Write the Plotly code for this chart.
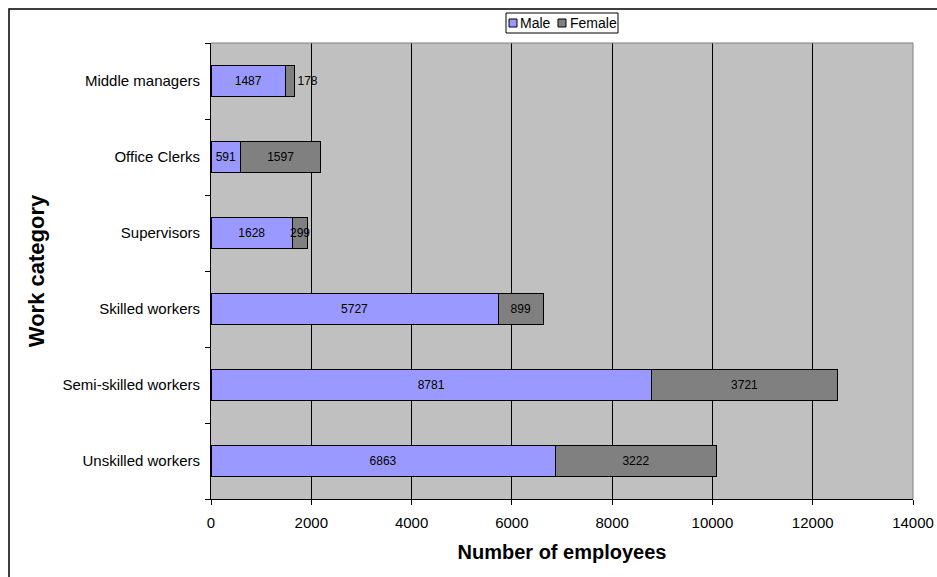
import plotly.graph_objects as go

categories = ["Unskilled workers", "Semi-skilled workers", "Skilled workers",
              "Supervisors", "Office Clerks", "Middle managers"]
male = [6863, 8781, 5727, 1628, 591, 1487]
female = [3222, 3721, 899, 299, 1597, 178]
x_ticks = [0, 2000, 4000, 6000, 8000, 10000, 12000, 14000]
series_names = ["Male", "Female"]
series_colors = ["#9999FF", "#808080"]

FONT = "Liberation Sans, Arial, sans-serif"

W, H = 937, 577
L, R, T, B = 211, 24, 43, 78
pw, ph = W - L - R, H - T - B

def px_x(p):
    return (p - L) / pw

def px_y(p):
    return (H - B - p) / ph

fig = go.Figure()
fig.add_trace(go.Bar(
    y=categories, x=male, name=series_names[0], orientation="h",
    marker=dict(color=series_colors[0], line=dict(color="black", width=1)),
    text=[str(v) for v in male], textposition="inside", insidetextanchor="middle",
    textangle=0,
    textfont=dict(family=FONT, size=12, color="black"), constraintext="none",
))
female_pos = ["inside"] * 5 + ["outside"]
fig.add_trace(go.Bar(
    y=categories, x=female, name=series_names[1], orientation="h",
    marker=dict(color=series_colors[1], line=dict(color="black", width=1)),
    text=[str(v) for v in female], textposition=female_pos, insidetextanchor="middle",
    textangle=0,
    textfont=dict(family=FONT, size=12, color="black"), constraintext="none",
    cliponaxis=False,
))

fig.update_layout(
    width=W, height=H,
    barmode="stack", bargap=0.6,
    plot_bgcolor="#C0C0C0", paper_bgcolor="white",
    margin=dict(l=L, r=R, t=T, b=B, autoexpand=False),
    font=dict(family=FONT, size=15, color="black"),
    showlegend=False,
    xaxis=dict(range=[0, 14000], tickvals=x_ticks, ticktext=[str(v) for v in x_ticks],
               showgrid=True, gridcolor="black", gridwidth=1,
               showline=True, linecolor="black", linewidth=1,
               ticks="outside", ticklen=5, tickcolor="black",
               ticklabelstandoff=5,
               zeroline=False, automargin=False,
               tickfont=dict(family=FONT, size=15),
               title=dict(text="<b>Number of employees</b>", font=dict(family=FONT, size=20),
                          standoff=14)),
    yaxis=dict(showgrid=False, showline=True, linecolor="black", linewidth=1,
               ticks="outside", ticklen=5, tickcolor="black", tickson="boundaries",
               ticklabelstandoff=7,
               automargin=False, tickfont=dict(family=FONT, size=15),
               title=dict(text="<b>Work category</b>", font=dict(family=FONT, size=22),
                          standoff=11)),
)

# plot area top and right borders (gray)
fig.add_shape(type="line", xref="paper", yref="paper", x0=0, x1=1, y0=1, y1=1,
              line=dict(color="#808080", width=1))
fig.add_shape(type="line", xref="paper", yref="paper", x0=1, x1=1, y0=0, y1=1,
              line=dict(color="#808080", width=1))
# outer chart frame (cut off at right and bottom)
fig.add_shape(type="rect", xref="paper", yref="paper",
              x0=px_x(9), x1=px_x(W + 20), y0=px_y(H + 20), y1=px_y(9),
              line=dict(color="black", width=1.5), layer="below")

# legend box (compact, like the original)
fig.add_shape(type="rect", xref="paper", yref="paper",
              x0=px_x(506), x1=px_x(618), y0=px_y(33), y1=px_y(13),
              line=dict(color="black", width=1), fillcolor="white")
legend_marker_x = [509, 558]
legend_text_x = [518, 568]
for name, color, mx, tx in zip(series_names, series_colors, legend_marker_x, legend_text_x):
    fig.add_shape(type="rect", xref="paper", yref="paper",
                  x0=px_x(mx), x1=px_x(mx + 8), y0=px_y(27), y1=px_y(19),
                  line=dict(color="black", width=1), fillcolor=color)
    fig.add_annotation(text=name, xref="paper", yref="paper",
                       x=px_x(tx), y=px_y(23), xanchor="left", yanchor="middle",
                       showarrow=False, font=dict(family=FONT, size=14, color="black"))

fig.write_html("out.html")
